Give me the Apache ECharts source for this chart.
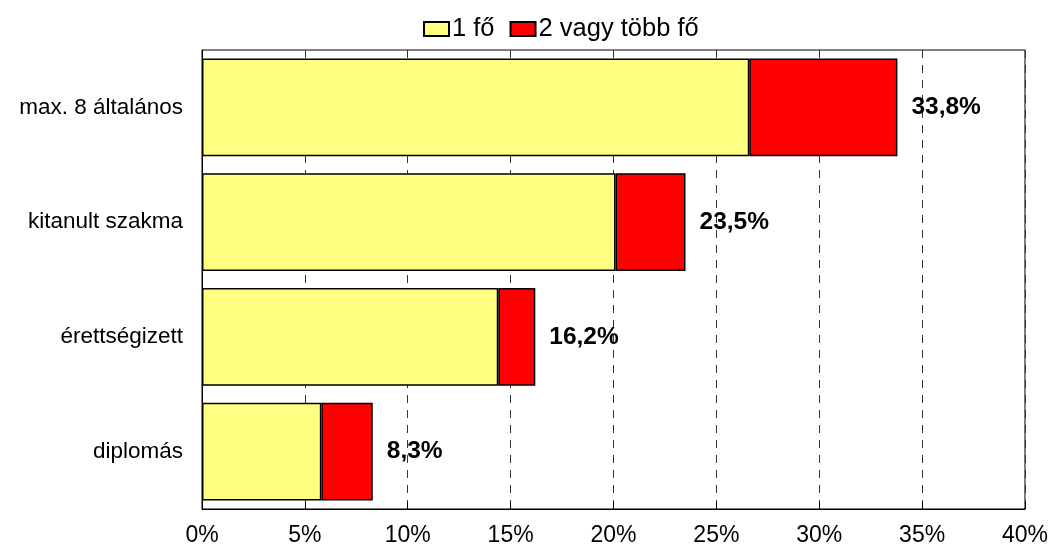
<!DOCTYPE html>
<html>
<head>
<meta charset="utf-8">
<script src="https://cdn.jsdelivr.net/npm/echarts@6/dist/echarts.min.js"></script>
<style>
  html, body { margin: 0; padding: 0; background: #fff; }
  #chart { width: 1051px; height: 548px; }
</style>
</head>
<body>
<div id="chart"></div>
<script>
// kategóriák fentről lefelé
var categories = ['max. 8 általános', 'kitanult szakma', 'érettségizett', 'diplomás']
var oneValues = [26.6, 20.1, 14.4, 5.8]
var moreValues = [7.2, 3.4, 1.8, 2.5]
var totalLabels = ['33,8%', '23,5%', '16,2%', '8,3%']
var seriesNames = ['1 fő', '2 vagy több fő']

var chart = echarts.init(document.getElementById('chart'))
var font = 'Liberation Sans, Arial, sans-serif'

chart.setOption({
  animation: false,
  textStyle: { fontFamily: font },
  legend: {
    data: seriesNames,
    top: 16,
    left: 423,
    padding: 0,
    icon: 'rect',
    itemWidth: 25,
    itemHeight: 14,
    itemGap: 15,
    textStyle: { fontSize: 25.5, color: '#000', fontFamily: font, padding: [0, 0, 0, -2] }
  },
  grid: {
    left: 202,
    right: 26,
    top: 50,
    bottom: 39,
    show: true,
    borderColor: '#000',
    borderWidth: 1
  },
  xAxis: {
    type: 'value',
    min: 0,
    max: 40,
    interval: 5,
    axisLine: { show: true, lineStyle: { color: '#000' } },
    axisTick: { show: true, inside: true, length: 7, lineStyle: { color: '#000' } },
    axisLabel: { fontSize: 23, color: '#000', margin: 15, formatter: '{value}%' },
    splitLine: {
      show: true,
      lineStyle: { color: '#333', type: [8, 7], width: 1 }
    }
  },
  yAxis: {
    type: 'category',
    data: categories,
    inverse: true,
    axisLine: { show: true, lineStyle: { color: '#000' } },
    axisTick: { show: false },
    axisLabel: { fontSize: 22.5, color: '#000', margin: 19 }
  },
  series: [
    {
      name: seriesNames[0],
      type: 'bar',
      stack: 'total',
      barCategoryGap: '15%',
      data: oneValues,
      itemStyle: { color: '#FFFF80', borderColor: '#000', borderWidth: 1.5 }
    },
    {
      name: seriesNames[1],
      type: 'bar',
      stack: 'total',
      data: moreValues,
      itemStyle: { color: '#FF0000', borderColor: '#000', borderWidth: 1.5 },
      label: {
        show: true,
        position: 'right',
        distance: 14,
        fontSize: 24.5,
        fontWeight: 'bold',
        color: '#000',
        formatter: function (p) {
          return totalLabels[p.dataIndex]
        }
      }
    }
  ]
})
</script>
</body>
</html>
